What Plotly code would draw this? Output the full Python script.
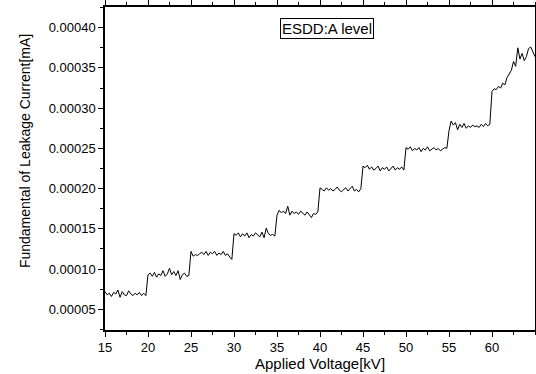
import numpy as np
import plotly.graph_objects as go

# Applied voltage sampled every 0.25 kV from 15 to 65 kV
voltage_kv = [15 + 0.25 * i for i in range(201)]

# Fundamental leakage current [mA], one block per 5 kV step
step_15_20 = [0.000072, 0.000068, 0.000070, 0.000066, 0.000071, 0.000069, 0.000074, 0.000065,
              0.000072, 0.000068, 0.000067, 0.000073, 0.000069, 0.000067, 0.000070, 0.000068,
              0.000071, 0.000067, 0.000070, 0.000067]
step_20_25 = [0.000093, 0.000095, 0.000091, 0.000096, 0.000090, 0.000094, 0.000092, 0.000098,
              0.000091, 0.000094, 0.000101, 0.000093, 0.000097, 0.000092, 0.000098, 0.000087,
              0.000093, 0.000095, 0.000091, 0.000092]
step_25_30 = [0.000122, 0.000116, 0.000118, 0.000117, 0.000119, 0.000121, 0.000118, 0.000122,
              0.000117, 0.000121, 0.000119, 0.000122, 0.000117, 0.000120, 0.000118, 0.000122,
              0.000117, 0.000119, 0.000115, 0.000112]
step_30_35 = [0.000144, 0.000142, 0.000145, 0.000140, 0.000144, 0.000141, 0.000145, 0.000139,
              0.000143, 0.000141, 0.000145, 0.000142, 0.000140, 0.000146, 0.000139, 0.000151,
              0.000144, 0.000142, 0.000143, 0.000141]
step_35_40 = [0.000167, 0.000173, 0.000170, 0.000172, 0.000169, 0.000178, 0.000167, 0.000172,
              0.000169, 0.000171, 0.000168, 0.000172, 0.000170, 0.000167, 0.000171, 0.000168,
              0.000164, 0.000169, 0.000168, 0.000171]
step_40_45 = [0.000201, 0.000199, 0.000197, 0.000201, 0.000198, 0.000200, 0.000197, 0.000199,
              0.000202, 0.000198, 0.000196, 0.000199, 0.000201, 0.000197, 0.000200, 0.000203,
              0.000197, 0.000199, 0.000196, 0.000200]
step_45_50 = [0.000228, 0.000226, 0.000229, 0.000224, 0.000227, 0.000223, 0.000225, 0.000228,
              0.000222, 0.000226, 0.000224, 0.000227, 0.000222, 0.000225, 0.000228, 0.000223,
              0.000226, 0.000224, 0.000227, 0.000223]
step_50_55 = [0.000251, 0.000249, 0.000252, 0.000247, 0.000250, 0.000248, 0.000251, 0.000246,
              0.000250, 0.000248, 0.000252, 0.000247, 0.000249, 0.000251, 0.000248, 0.000250,
              0.000247, 0.000249, 0.000251, 0.000250]
step_55_60 = [0.000272, 0.000284, 0.000279, 0.000282, 0.000273, 0.000280, 0.000276, 0.000281,
              0.000275, 0.000278, 0.000276, 0.000279, 0.000277, 0.000278, 0.000276, 0.000280,
              0.000277, 0.000281, 0.000278, 0.000280]
step_60_65 = [0.000321, 0.000324, 0.000323, 0.000327, 0.000325, 0.000331, 0.000329, 0.000338,
              0.000342, 0.000347, 0.000358, 0.000352, 0.000375, 0.000361, 0.000368, 0.000359,
              0.000364, 0.000374, 0.000376, 0.000369, 0.000364]

current_ma = (step_15_20 + step_20_25 + step_25_30 + step_30_35 + step_35_40
              + step_40_45 + step_45_50 + step_50_55 + step_55_60 + step_60_65)

x_ticks = [15, 20, 25, 30, 35, 40, 45, 50, 55, 60]
y_ticks = [0.00005, 0.00010, 0.00015, 0.00020, 0.00025, 0.00030, 0.00035, 0.00040]

FONT = "Arial, Liberation Sans, sans-serif"

fig = go.Figure()
fig.add_trace(go.Scatter(
    x=voltage_kv, y=current_ma, mode="lines",
    line=dict(color="black", width=1),
    showlegend=False,
))

axis_common = dict(
    showline=True, linecolor="black", linewidth=1.5, mirror="ticks",
    ticks="outside", tickcolor="black", ticklen=5, tickwidth=1.2,
    showgrid=False, zeroline=False, automargin=False,
    tickfont=dict(family=FONT, size=13, color="black"),
)

fig.update_xaxes(
    **axis_common,
    range=[15, 65], tickvals=x_ticks, ticktext=[str(v) for v in x_ticks],
    minor=dict(ticks="outside", ticklen=3, tickwidth=1.2, tickcolor="black", dtick=2.5, tick0=15),
    title=dict(text="Applied Voltage[kV]", font=dict(family=FONT, size=15, color="black"), standoff=0),
)
fig.update_yaxes(
    **axis_common,
    range=[0.0000243, 0.0004257], tickvals=y_ticks, tickformat=".5f",
    minor=dict(ticks="outside", ticklen=3, tickwidth=1.2, tickcolor="black", dtick=0.000025, tick0=0),
)

# Vertical axis title, placed slightly above the plot's mid-height
fig.add_annotation(
    xref="paper", yref="paper", x=-0.186, y=0.554,
    xanchor="center", yanchor="middle", textangle=-90,
    text="Fundamental of Leakage Current[mA]", showarrow=False,
    font=dict(family=FONT, size=14, color="black"),
)

fig.add_annotation(
    xref="paper", yref="paper", x=0.516, y=0.932,
    xanchor="center", yanchor="middle",
    text="ESDD:A level", showarrow=False,
    font=dict(family=FONT, size=15, color="black"),
    bordercolor="black", borderwidth=1, borderpad=1, bgcolor="white",
)

fig.update_layout(
    width=536, height=374,
    margin=dict(l=105, r=1, t=7, b=44),
    paper_bgcolor="white", plot_bgcolor="white",
    font=dict(family=FONT, color="black"),
)

fig.write_html("out.html")
